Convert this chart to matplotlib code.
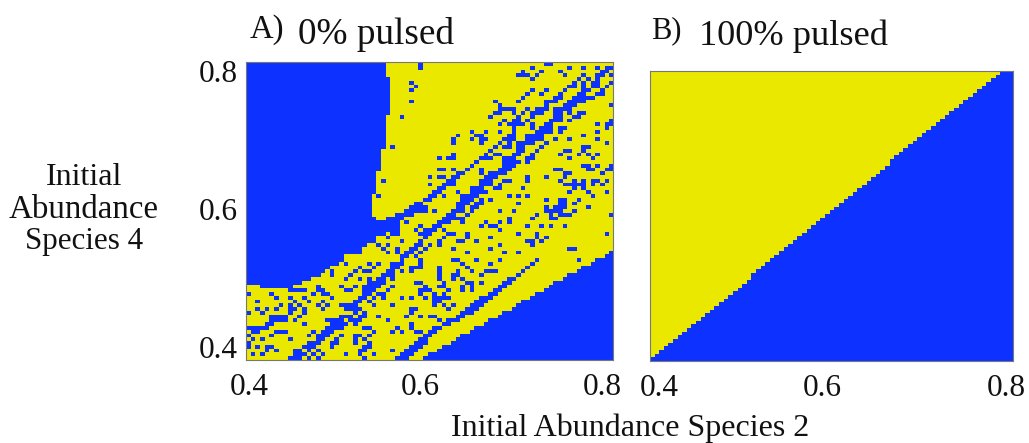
import numpy as np
import matplotlib
matplotlib.use("Agg")
import matplotlib.pyplot as plt
from matplotlib.colors import ListedColormap

plt.rcParams['font.family'] = ['Liberation Serif', 'DejaVu Serif']

TICK_LABELS = ['0.4', '0.6', '0.8']
X_TICKS_A = [0.4, 0.5935, 0.8]
X_TICKS_B = [0.4, 0.5879, 0.8]
Y_TICKS_A = [0.4, 0.6, 0.8]
N = 79

# Panel A: per row (top to bottom) number of blue cells at the left edge
BLUE_LEFT_A = [30]*4 + [31]*10 + [30]*9 + [29]*6 + [28]*6 + [27]*6 + [28, 33, 33, 33, 30, 28, 28, 26, 25, 25,
               21, 21, 20, 18, 17, 16, 14, 12] + [0]*20
# Panel A: per row first blue cell of the bottom-right block
BLUE_RIGHT_A = [79]*50 + [78, 77, 75, 74, 72, 71, 69, 68, 66, 65, 64, 62, 61, 59, 58, 57, 55, 54, 52, 51,
                          49, 48, 46, 45, 44, 42, 41, 39, 38]
# Panel A: other blue runs per row (first cell, last cell)
BLUE_RUNS_A = [
 [(37,37),(64,65)],
 [(37,37),(61,61),(69,69),(72,72),(75,75),(77,78)],
 [(59,59),(63,63),(67,67),(76,77)],
 [(58,60),(62,62),(68,68),(72,72),(75,76),(78,78)],
 [(61,61),(71,71),(73,73),(75,75)],
 [(35,35),(70,70),(72,72),(74,75),(78,78)],
 [(36,36),(69,70),(72,72),(74,75),(77,77)],
 [(35,35),(61,61),(64,64),(68,68),(72,73),(76,76)],
 [(60,60),(63,63),(67,67),(71,72),(75,76)],
 [(59,59),(66,67),(70,74)],
 [(35,35),(53,53),(58,58),(64,66),(69,72)],
 [(54,54),(64,64),(68,70),(78,78)],
 [(54,57),(60,60),(62,64),(66,69)],
 [(53,54),(57,57),(59,59),(61,63),(66,67),(69,69),(71,72)],
 [(33,33),(52,52),(58,58),(61,61),(66,67),(70,71)],
 [(55,55),(57,58),(60,60),(65,67),(69,69),(78,78)],
 [(54,54),(56,59),(61,61),(64,65),(75,75),(77,78)],
 [(57,57),(61,61),(63,65),(67,68),(77,77)],
 [(48,48),(51,51),(54,54),(57,57),(62,65),(67,67),(75,75)],
 [(45,45),(49,50),(56,57),(60,63),(72,72)],
 [(44,44),(48,48),(50,51),(55,57),(60,63),(66,66),(69,69),(75,75)],
 [(44,44),(50,50),(54,54),(56,56),(58,61),(64,64),(77,77)],
 [(31,31),(53,53),(55,56),(58,59),(63,63),(72,73)],
 [(52,52),(58,59),(62,62),(68,69),(72,72)],
 [(44,44),(51,51),(53,54),(57,58),(61,61),(67,67),(71,71),(73,73),(75,75)],
 [(41,41),(43,44),(50,52),(55,57),(60,61),(69,69),(74,74)],
 [(49,49),(55,58),(60,60)],
 [(48,48),(55,57),(72,73),(75,75),(78,78)],
 [(41,42),(44,44),(47,47),(50,50),(54,56),(66,67),(73,74),(77,78)],
 [(45,46),(50,50),(52,55),(68,69),(76,76)],
 [(39,39),(41,42),(44,45),(51,53),(60,60),(64,64),(68,68)],
 [(29,29),(43,44),(50,52),(55,56),(60,60),(67,67),(70,70),(72,72),(74,75),(77,77)],
 [(39,39),(42,44),(50,52),(54,54),(68,72),(74,74),(76,76)],
 [(41,42),(48,50),(53,54),(59,59),(70,70),(72,72)],
 [(40,41),(45,45),(48,51),(69,69),(73,73),(77,77)],
 [(28,28),(39,40),(42,42),(46,49),(56,56),(58,58),(60,60),(74,74)],
 [(38,39),(46,48),(50,50),(52,52),(64,64),(67,68),(71,71)],
 [(36,37),(45,47),(49,50),(58,58),(67,68),(70,70)],
 [(35,38),(45,46),(48,49),(64,64),(66,68),(73,73)],
 [(34,38),(40,40),(44,46),(48,48),(54,54),(57,57),(64,67),(70,70)],
 [(32,35),(43,44),(47,47),(62,62),(65,65),(67,69),(78,78)],
 [(30,33),(42,46),(56,56),(61,61),(65,66)],
 [(34,34),(41,43),(46,46),(51,51),(54,54),(56,56)],
 [(37,37),(40,41),(50,50),(52,53),(60,60),(63,63),(65,65),(68,68)],
 [(36,36),(38,40),(42,42),(54,54)],
 [(31,32),(37,39),(43,44),(47,47),(58,58),(62,62),(77,77)],
 [(30,30),(38,38),(42,42),(47,47),(52,52),(62,62),(64,64)],
 [(33,33),(37,37),(41,41),(45,46),(49,49),(60,61),(63,63)],
 [(28,28),(30,30),(36,37),(39,39),(41,41),(54,54),(61,61)],
 [(29,29),(32,32),(35,36),(38,38),(44,44),(52,52),(69,70)],
 [(30,30),(32,32),(34,35),(37,37),(47,47),(55,55),(58,58)],
 [(33,34),(36,36)],
 [(33,33),(37,37),(44,45),(49,49),(54,54),(62,62),(71,71)],
 [(21,21),(26,26),(28,28),(31,33),(37,37),(46,46),(52,52),(61,61)],
 [(24,24),(27,27),(31,32),(35,37),(41,41),(47,47),(60,60)],
 [(18,18),(23,23),(25,26),(30,31),(33,33),(35,35),(41,41),(45,45),(48,48),(51,53),(59,59)],
 [(18,18),(22,22),(29,31),(41,41),(44,45),(50,50),(58,58)],
 [(21,21),(24,24),(26,26),(28,29),(31,31),(41,41),(44,44),(46,46),(56,57)],
 [(26,29),(36,37),(42,42),(47,48),(50,50),(55,56)],
 [(3,9),(15,15),(20,20),(23,23),(25,28),(31,31),(38,38),(41,42),(46,46),(48,48),(54,55)],
 [(9,12),(15,16),(21,22),(25,27),(30,30),(37,39),(43,43),(46,46),(48,48),(53,54)],
 [(0,0),(5,5),(14,14),(16,17),(25,26),(28,29),(37,37),(40,40),(42,42),(52,53)],
 [(6,6),(9,9),(12,12),(18,18),(24,25),(27,27),(29,29),(33,33),(35,35),(38,38),(40,43),(50,52)],
 [(2,2),(10,10),(13,13),(16,16),(23,24),(26,26),(40,41),(49,51)],
 [(7,7),(9,9),(11,11),(15,15),(17,17),(20,23),(27,27),(31,31),(40,40),(42,42),(44,44),(48,50)],
 [(2,2),(4,4),(6,6),(9,10),(12,12),(16,16),(21,24),(35,36),(43,43),(47,49)],
 [(0,0),(3,3),(9,9),(12,12),(23,23),(25,25),(35,35),(46,48)],
 [(5,8),(11,11),(20,22),(24,25),(28,28),(34,34),(37,37),(39,40),(45,46)],
 [(5,8),(10,10),(17,20),(22,24),(30,30),(41,41),(43,45)],
 [(4,5),(12,12),(18,21),(23,23),(35,35),(42,43)],
 [(0,4),(17,20),(25,26),(32,32),(35,35),(40,41)],
 [(1,2),(6,8),(14,14),(16,18),(27,27),(31,31),(33,33),(36,37),(39,40)],
 [(0,0),(5,5),(13,13),(15,17),(20,20),(23,24),(26,26),(38,39)],
 [(1,1),(3,3),(9,9),(15,16),(19,19),(23,23),(25,25),(37,38)],
 [(0,0),(13,15),(18,19),(23,23),(26,26),(36,38)],
 [(0,0),(2,2),(4,5),(12,14),(18,18),(25,26),(35,37)],
 [(4,4),(6,6),(10,11),(13,13),(15,15),(24,25),(31,31),(34,36)],
 [(1,1),(3,3),(10,12),(14,14),(16,16),(21,21),(24,24),(27,27),(33,35)],
 [(9,11),(13,13),(15,15),(25,25),(32,34)],
]
# Panel B: per row first blue cell
BLUE_START_B = [76, 75, 74, 73, 72, 71, 70, 69, 68, 67, 66, 65, 64, 63, 62, 61, 60, 59, 58, 57, 56, 55, 54, 53, 52,
                52, 51, 50, 49, 48, 47, 46, 45, 44, 43, 42, 41, 40, 39, 38, 37, 36, 35, 34, 33, 32, 31, 30, 29, 28,
                27, 26, 25, 24, 23, 22, 22, 21, 20, 19, 18, 17, 16, 15, 14, 13, 12, 11, 10, 9, 8, 7, 6, 5, 4, 3, 2, 1, 0]

grid_a = np.zeros((N, N), dtype=int)
for r in range(N):
    grid_a[r, :BLUE_LEFT_A[r]] = 1
    grid_a[r, BLUE_RIGHT_A[r]:] = 1
    for s, e in BLUE_RUNS_A[r]:
        grid_a[r, s:e + 1] = 1
grid_b = np.zeros((N, N), dtype=int)
for r in range(N):
    grid_b[r, BLUE_START_B[r]:] = 1

W, H = 1029, 443
fig = plt.figure(figsize=(W / 100, H / 100), dpi=100, facecolor='white')
cmap = ListedColormap(['#EBE800', '#0D32FF'])


def box(l, t, r, b):
    return [l / W, (H - b) / H, (r - l) / W, (b - t) / H]


ax_a = fig.add_axes(box(245.7, 62.3, 613.3, 360))
ax_b = fig.add_axes(box(649.7, 71.3, 1013.3, 361))

for ax, grid, ext, xt in ((ax_a, grid_a, (0.3957, 0.8128, 0.3819, 0.8126), X_TICKS_A),
                          (ax_b, grid_b, (0.3893, 0.8084, 0.38, 0.81), X_TICKS_B)):
    ax.imshow(grid, cmap=cmap, vmin=0, vmax=1, extent=ext, aspect='auto',
              interpolation='nearest', origin='upper')
    ax.set_xticks(xt)
    ax.set_xticklabels(TICK_LABELS, fontsize=22.5, color='#111111')
    ax.tick_params(axis='x', length=0, pad=9.5)
    ax.tick_params(axis='y', length=0, pad=6)
    for s in ax.spines.values():
        s.set_edgecolor('#777777')
        s.set_linewidth(0.8)

ax_a.set_yticks(Y_TICKS_A)
ax_a.set_yticklabels(TICK_LABELS, fontsize=22.5, color='#111111')
ax_b.set_yticks([])


def label(x, y, s, size, **kw):
    fig.text(x / W, (H - y) / H, s, fontsize=size, color='#111111', **kw)


label(250, 38, 'A)', 23.5, ha='left', va='baseline')
label(298, 44, '0% pulsed', 26.8, ha='left', va='baseline')
label(651, 38, 'B)', 22, ha='left', va='baseline')
label(699, 45, '100% pulsed', 26.2, ha='left', va='baseline')
label(84, 185, 'Initial', 23, ha='center', va='baseline')
label(84, 218, 'Abundance', 23.7, ha='center', va='baseline')
label(84, 249, 'Species 4', 22.3, ha='center', va='baseline')
label(630, 436, 'Initial Abundance Species 2', 23, ha='center', va='baseline')

fig.savefig('out.png', dpi=100, facecolor='white')
